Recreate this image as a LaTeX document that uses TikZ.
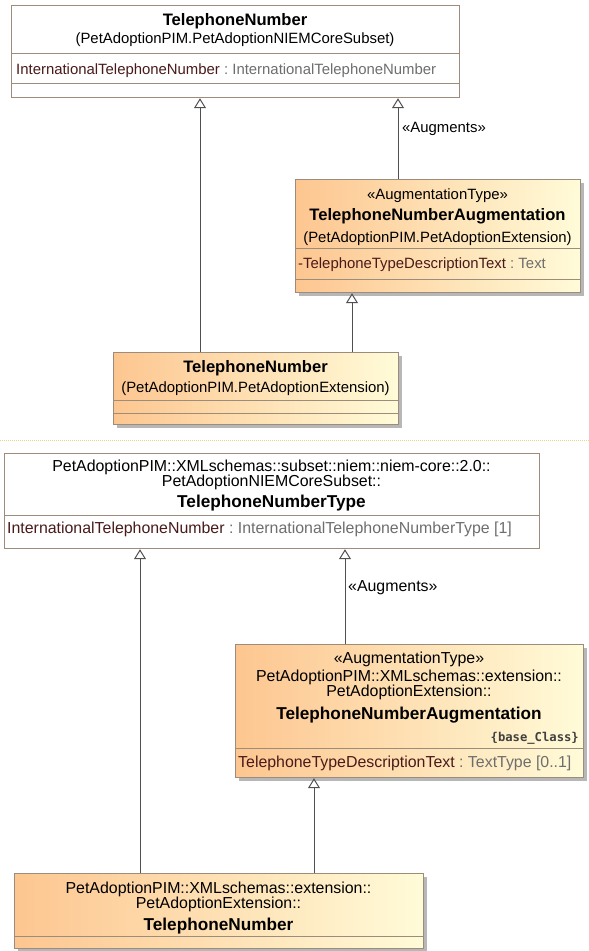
\documentclass[tikz,border=0pt]{standalone}
\usepackage{fontspec}
\setmainfont{Liberation Sans}
\newfontfamily\basemono{DejaVu Sans Mono}
\usetikzlibrary{arrows.meta,shadows}
\definecolor{bord}{HTML}{9C8C7C}
\definecolor{augL}{HTML}{FDC690}
\definecolor{augR}{HTML}{FFFBD8}
\definecolor{attrN}{HTML}{4A1A1A}
\definecolor{attrT}{HTML}{6E6E6E}
\definecolor{conn}{HTML}{505050}
\definecolor{sepc}{HTML}{DCDC8C}
\begin{document}
\begin{tikzpicture}[x=1pt,y=-1pt,
  classbox/.style={draw=bord, line width=1.2pt, fill=white, inner sep=0pt, anchor=north west},
  augbox/.style={classbox, left color=augL, right color=augR,
    drop shadow={shadow xshift=3pt, shadow yshift=-3pt, fill=black!40, opacity=0.7}},
  sepline/.style={draw=bord, line width=1pt},
  gen/.style={draw=conn, line width=1pt, -{Triangle[width=12pt,length=10pt,fill=white]}},
  txtA/.style={inner sep=0pt, anchor=mid, yshift=-3.5pt, font=\fontsize{14.9}{17}\selectfont},
  ttlA/.style={inner sep=0pt, anchor=mid, yshift=-3.5pt, font=\fontsize{16.6}{19}\selectfont\bfseries},
  txtB/.style={inner sep=0pt, anchor=mid, yshift=-3.5pt, font=\fontsize{15.9}{18}\selectfont},
  ttlB/.style={inner sep=0pt, anchor=mid, yshift=-3.5pt, font=\fontsize{17.2}{20}\selectfont\bfseries},
  basecls/.style={inner sep=0pt, anchor=mid east, yshift=-3pt, font=\fontsize{12.2}{14}\selectfont\basemono\bfseries, text=black!75}
]
\useasboundingbox (0,0) rectangle (589,951);

% ---------------- top diagram ----------------
\node[classbox, minimum width=448pt, minimum height=92pt] (b1) at (11,5) {};
\node[augbox, minimum width=285pt, minimum height=113pt] (b2) at (295,179) {};
\node[augbox, minimum width=285pt, minimum height=72pt] (b3) at (113,352) {};

\draw[sepline] ([yshift=-48pt]b1.north west) -- ([yshift=-48pt]b1.north east);
\draw[sepline] ([yshift=-78pt]b1.north west) -- ([yshift=-78pt]b1.north east);
\draw[sepline] ([yshift=-69pt]b2.north west) -- ([yshift=-69pt]b2.north east);
\draw[sepline] ([yshift=-100pt]b2.north west) -- ([yshift=-100pt]b2.north east);
\draw[sepline] ([yshift=-48pt]b3.north west) -- ([yshift=-48pt]b3.north east);
\draw[sepline] ([yshift=-61pt]b3.north west) -- ([yshift=-61pt]b3.north east);

\node[ttlA] (b1t) at (235,19) {TelephoneNumber};
\node[txtA] (b1p) at (235,37) {(PetAdoptionPIM.PetAdoptionNIEMCoreSubset)};
\node[txtA, anchor=mid west] (b1a) at (16,68) {\textcolor{attrN}{InternationalTelephoneNumber}\ \textcolor{attrT}{:\ InternationalTelephoneNumber}};

\node[txtA] (b2s) at (437.5,193) {«AugmentationType»};
\node[ttlA] (b2t) at (437.5,214) {TelephoneNumberAugmentation};
\node[txtA] (b2p) at (437.5,236) {(PetAdoptionPIM.PetAdoptionExtension)};
\node[txtA, anchor=mid west] (b2a) at (298,262) {\textcolor{attrN}{-TelephoneTypeDescriptionText}\ \textcolor{attrT}{:\ Text}};

\node[ttlA] (b3t) at (255.5,366) {TelephoneNumber};
\node[txtA] (b3p) at (255.5,386) {(PetAdoptionPIM.PetAdoptionExtension)};

\coordinate (c1) at ([xshift=87pt]b3.north west);
\coordinate (c2) at ([xshift=103pt]b2.north west);
\coordinate (c3) at ([xshift=239pt]b3.north west);
\draw[gen] (c1) -- (c1 |- b1.south);
\draw[gen] (c2) -- (c2 |- b1.south);
\draw[gen] (c3) -- (c3 |- b2.south);
\node[txtA, anchor=mid west] (l1) at (402,126) {«Augments»};

% ---------------- divider ----------------
\draw[sepc, line width=1pt, dash pattern=on 1pt off 1pt] (0,440) -- (589,440);

% ---------------- bottom diagram ----------------
\node[classbox, minimum width=535pt, minimum height=95pt] (b4) at (4,453) {};
\node[augbox, minimum width=348pt, minimum height=133pt] (b5) at (235,644) {};
\node[augbox, minimum width=409pt, minimum height=75pt] (b6) at (14,873) {};

\draw[sepline] ([yshift=-62pt]b4.north west) -- ([yshift=-62pt]b4.north east);
\draw[sepline] ([yshift=-104pt]b5.north west) -- ([yshift=-104pt]b5.north east);
\draw[sepline] ([yshift=-63pt]b6.north west) -- ([yshift=-63pt]b6.north east);

\node[txtB] (b4l1) at (271.5,465) {PetAdoptionPIM::XMLschemas::subset::niem::niem-core::2.0::};
\node[txtB] (b4l2) at (271.5,480) {PetAdoptionNIEMCoreSubset::};
\node[ttlB] (b4t) at (271.5,501) {TelephoneNumberType};
\node[txtB, anchor=mid west] (b4a) at (7,527) {\textcolor{attrN}{InternationalTelephoneNumber}\ \textcolor{attrT}{:\ InternationalTelephoneNumberType [1]}};

\node[txtB] (b5s) at (409,657) {«AugmentationType»};
\node[txtB] (b5l1) at (409,675) {PetAdoptionPIM::XMLschemas::extension::};
\node[txtB] (b5l2) at (409,690) {PetAdoptionExtension::};
\node[ttlB] (b5t) at (409,713) {TelephoneNumberAugmentation};
\node[basecls] (b5b) at (579,736) {\{base\_Class\}};
\node[txtB, anchor=mid west] (b5a) at (238,761) {\textcolor{attrN}{TelephoneTypeDescriptionText}\ \textcolor{attrT}{:\ TextType [0..1]}};

\node[txtB] (b6l1) at (218.5,887) {PetAdoptionPIM::XMLschemas::extension::};
\node[txtB] (b6l2) at (218.5,902) {PetAdoptionExtension::};
\node[ttlB] (b6t) at (218.5,924) {TelephoneNumber};

\coordinate (c4) at ([xshift=126pt]b6.north west);
\coordinate (c5) at ([xshift=110pt]b5.north west);
\coordinate (c6) at ([xshift=300pt]b6.north west);
\draw[gen] (c4) -- (c4 |- b4.south);
\draw[gen] (c5) -- (c5 |- b4.south);
\draw[gen] (c6) -- (c6 |- b5.south);
\node[txtB, anchor=mid west] (l2) at (348,585) {«Augments»};
\end{tikzpicture}
\end{document}
